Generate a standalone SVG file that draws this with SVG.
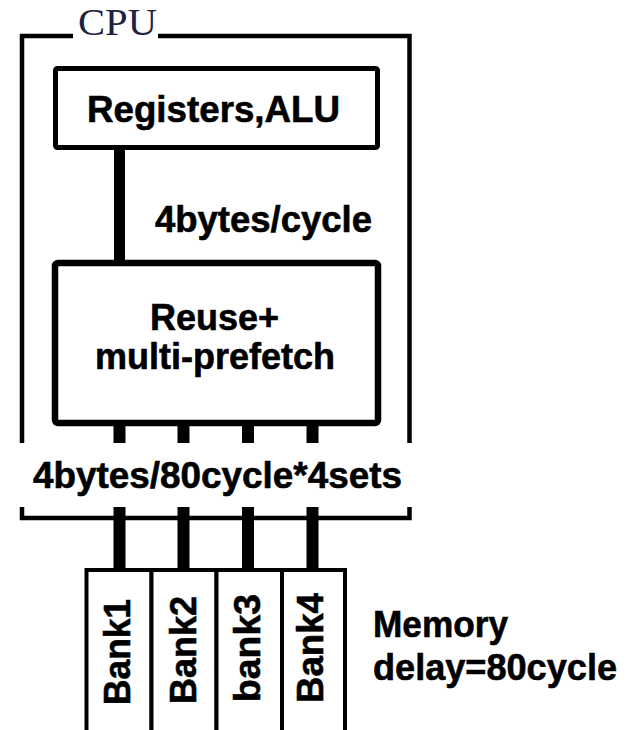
<svg xmlns="http://www.w3.org/2000/svg" width="629" height="730" viewBox="0 0 629 730">
  <style>
    .lbl { font-family: "Liberation Sans", Arial, sans-serif; font-weight: bold; font-size: 37px; fill: #000; stroke: #000; stroke-width: 0.6px; }
    .box { fill: #fff; stroke: #000; stroke-width: 6; }
    .thin { fill: none; stroke: #000; stroke-width: 4.5; }
    .bank { fill: #fff; stroke: #000; stroke-width: 4; }
    .bus { stroke: #000; stroke-width: 12; }
  </style>
  <rect width="629" height="730" fill="#fff"/>
  <g id="cpu">
    <path class="thin" d="M73,36 H22 V443 M158,36 H409.5 V443 M22,507 V518 H409.5 V507"/>
    <text x="78" y="35" font-family="'Liberation Serif', 'Times New Roman', serif" font-size="38" fill="#1c2340" textLength="79" lengthAdjust="spacingAndGlyphs">CPU</text>
  </g>
  <g id="connectors">
    <line class="bus" x1="119.5" y1="147" x2="119.5" y2="262" style="stroke-width:11"/>
    <line class="bus" x1="119.5" y1="423" x2="119.5" y2="443"/>
    <line class="bus" x1="183.5" y1="423" x2="183.5" y2="443"/>
    <line class="bus" x1="248" y1="423" x2="248" y2="443"/>
    <line class="bus" x1="312.5" y1="423" x2="312.5" y2="443"/>
    <line class="bus" x1="119.5" y1="507" x2="119.5" y2="570"/>
    <line class="bus" x1="183.5" y1="507" x2="183.5" y2="570"/>
    <line class="bus" x1="248" y1="507" x2="248" y2="570"/>
    <line class="bus" x1="312.5" y1="507" x2="312.5" y2="570"/>
  </g>
  <g id="registers">
    <rect class="box" x="55.5" y="68.5" width="322" height="79" rx="2" style="stroke-width:5"/>
    <text class="lbl" x="87" y="122" textLength="253" lengthAdjust="spacingAndGlyphs">Registers,ALU</text>
  </g>
  <g id="bw1">
    <text class="lbl" x="155" y="232" textLength="217" lengthAdjust="spacingAndGlyphs">4bytes/cycle</text>
  </g>
  <g id="reuse">
    <rect class="box" x="55" y="263" width="323" height="160" rx="3" style="stroke-width:6.5"/>
    <text class="lbl" x="150" y="330" textLength="129" lengthAdjust="spacingAndGlyphs">Reuse+</text>
    <text class="lbl" x="95" y="369" textLength="240" lengthAdjust="spacingAndGlyphs">multi-prefetch</text>
  </g>
  <g id="bw2">
    <text class="lbl" x="33" y="488" textLength="369" lengthAdjust="spacingAndGlyphs">4bytes/80cycle*4sets</text>
  </g>
  <g id="bank1">
    <rect class="bank" x="86.5" y="570" width="65" height="170"/>
    <text class="lbl" transform="translate(130,652) rotate(-90)" text-anchor="middle" textLength="106" lengthAdjust="spacingAndGlyphs">Bank1</text>
  </g>
  <g id="bank2">
    <rect class="bank" x="151.5" y="570" width="65" height="170"/>
    <text class="lbl" transform="translate(196,650) rotate(-90)" text-anchor="middle" textLength="108" lengthAdjust="spacingAndGlyphs">Bank2</text>
  </g>
  <g id="bank3">
    <rect class="bank" x="216.5" y="570" width="65.5" height="170"/>
    <text class="lbl" transform="translate(260,648) rotate(-90)" text-anchor="middle" textLength="108" lengthAdjust="spacingAndGlyphs">bank3</text>
  </g>
  <g id="bank4">
    <rect class="bank" x="282" y="570" width="63" height="170"/>
    <text class="lbl" transform="translate(323,648) rotate(-90)" text-anchor="middle" textLength="110" lengthAdjust="spacingAndGlyphs">Bank4</text>
  </g>
  <g id="memory">
    <text class="lbl" x="373" y="637" textLength="135" lengthAdjust="spacingAndGlyphs">Memory</text>
    <text class="lbl" x="373" y="680" textLength="244" lengthAdjust="spacingAndGlyphs">delay=80cycle</text>
  </g>
</svg>
